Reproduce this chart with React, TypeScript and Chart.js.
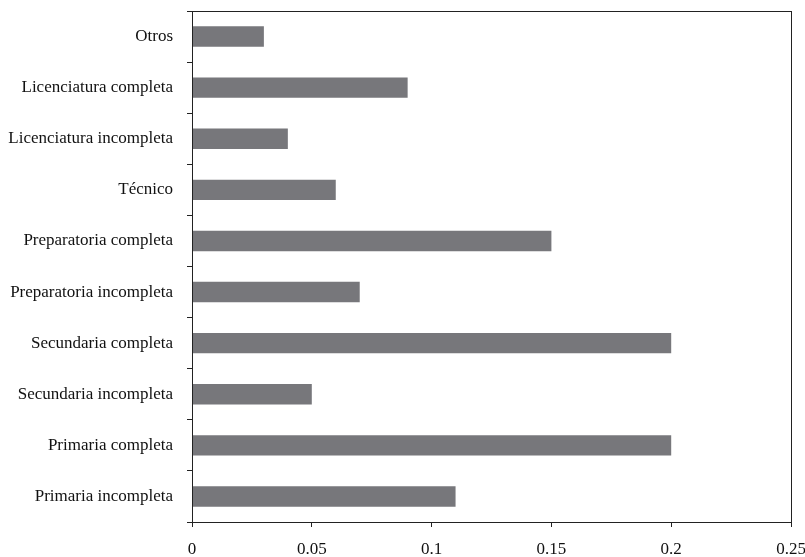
import React, { useEffect, useRef } from "react";
import { Chart, registerables } from "chart.js";

Chart.register(...registerables);

const categories = [
  "Otros",
  "Licenciatura completa",
  "Licenciatura incompleta",
  "Técnico",
  "Preparatoria completa",
  "Preparatoria incompleta",
  "Secundaria completa",
  "Secundaria incompleta",
  "Primaria completa",
  "Primaria incompleta",
];
const values = [0.03, 0.09, 0.04, 0.06, 0.15, 0.07, 0.2, 0.05, 0.2, 0.11];
const xTicks = [0, 0.05, 0.1, 0.15, 0.2, 0.25];
const xTickLabels = ["0", "0.05", "0.1", "0.15", "0.2", "0.25"];

const frame = {
  id: "frame",
  afterDraw(chart: any) {
    const { ctx, chartArea: a } = chart;
    ctx.save();
    ctx.strokeStyle = "#222";
    ctx.lineWidth = 1;
    ctx.strokeRect(Math.round(a.left) + 0.5, Math.round(a.top) + 0.5, Math.round(a.right - a.left), Math.round(a.bottom - a.top));
    ctx.restore();
  },
};

export default function App() {
  const ref = useRef<HTMLCanvasElement>(null);
  useEffect(() => {
    if (!ref.current) return;
    const font = { family: "'Liberation Serif', 'DejaVu Serif', serif", size: 17 };
    const chart = new Chart(ref.current, {
      type: "bar",
      data: {
        labels: categories,
        datasets: [
          {
            data: values,
            backgroundColor: "#77777b",
            barPercentage: 0.4,
            categoryPercentage: 1,
          },
        ],
      },
      options: {
        indexAxis: "y",
        animation: false,
        responsive: false,
        maintainAspectRatio: false,
        layout: { padding: { top: 11, right: 14, bottom: 0, left: 0 } },
        plugins: { legend: { display: false }, tooltip: { enabled: false } },
        scales: {
          x: {
            min: 0,
            max: 0.25,
            afterBuildTicks: (s: any) => {
              s.ticks = xTicks.map((v) => ({ value: v }));
            },
            afterFit: (s: any) => {
              s.height = 35;
              s.paddingLeft = 0;
              s.paddingRight = 0;
            },
            grid: { drawOnChartArea: false, tickLength: 5, color: "#222" },
            border: { color: "#222" },
            ticks: {
              font,
              color: "#111",
              padding: 12,
              maxRotation: 0,
              callback: (_v: any, i: number) => xTickLabels[i],
            },
          },
          y: {
            afterFit: (s: any) => {
              s.width = 192;
              s.paddingTop = 0;
              s.paddingBottom = 0;
            },
            grid: { drawOnChartArea: false, tickLength: 5, color: "#222", offset: true },
            border: { color: "#222" },
            ticks: { font, color: "#111", padding: 14 },
          },
        },
      },
      plugins: [frame],
    });
    return () => chart.destroy();
  }, []);
  return (
    <div style={{ position: "fixed", left: 0, top: 0, width: 805, height: 557, background: "#fff" }}>
      <canvas ref={ref} width={805} height={557} style={{ width: 805, height: 557 }} />
    </div>
  );
}
